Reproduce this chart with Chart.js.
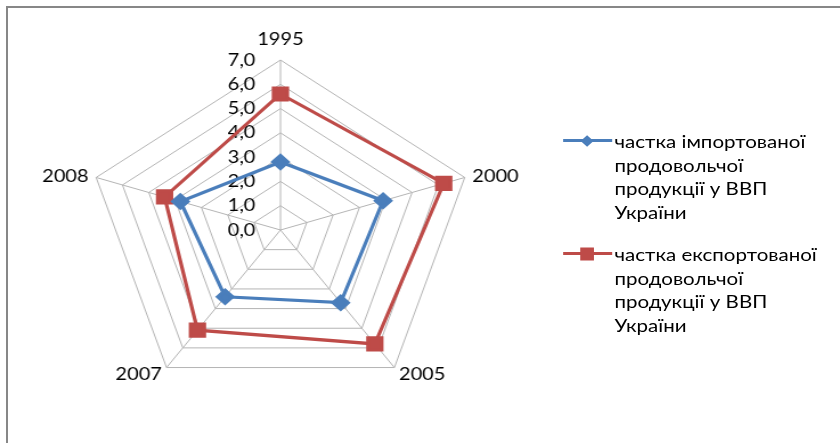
<!DOCTYPE html>
<html lang="uk">
<head>
  <meta charset="UTF-8">
  <title>Частка продовольчої продукції у ВВП України</title>
  <script src="https://cdn.jsdelivr.net/npm/chart.js"></script>
  <style>
    html, body {
      margin: 0;
      padding: 0;
      width: 840px;
      height: 443px;
      overflow: hidden;
      background: #fff;
    }
    .frame {
      position: absolute;
      left: 6px;
      top: 6px;
      width: 900px;
      height: 500px;
      border: 2px solid #878787;
    }
    /* the source picture is stretched sideways, so the whole chart is too */
    .stretch {
      position: absolute;
      left: 0;
      top: 0;
      width: 737px;
      height: 443px;
      transform: scaleX(1.14);
      transform-origin: 0 0;
    }
    #radar {
      position: absolute;
      left: 0;
      top: 0;
    }
    .legend {
      position: absolute;
      left: 494px;
      top: 130px;
      font-family: Lato, 'Noto Sans', sans-serif;
      font-size: 18px;
      line-height: 23.5px;
      color: #000;
    }
    .item {
      position: relative;
      padding-left: 45px;
      margin-bottom: 19px;
    }
    .item .line {
      position: absolute;
      left: 0;
      top: 9px;
      width: 43px;
      height: 3px;
    }
    .item .mark {
      position: absolute;
      left: 21px;
      top: 10.5px;
      transform: translate(-50%, -50%);
    }
  </style>
</head>
<body>
  <div class="frame"></div>
  <div class="stretch">
    <canvas id="radar" width="493" height="443"></canvas>
    <div class="legend" id="legend"></div>
  </div>

  <script>
    const years = ['1995', '2000', '2005', '2007', '2008'];
    const importShare = [2.8, 3.9, 3.7, 3.4, 3.8];
    const exportShare = [5.6, 6.2, 5.8, 5.1, 4.4];
    const seriesNames = [
      ['частка імпортованої', 'продовольчої', 'продукції у ВВП', 'України'],
      ['частка експортованої', 'продовольчої', 'продукції у ВВП', 'України']
    ];
    const tickValues = [0, 1, 2, 3, 4, 5, 6, 7];
    const tickLabels = ['0,0', '1,0', '2,0', '3,0', '4,0', '5,0', '6,0', '7,0'];

    const labelFont = '17.5px Lato';

    // tick labels sit left of the vertical axis, under the lines
    const tickLabelPlugin = {
      id: 'tickLabels',
      beforeDatasetsDraw(chart) {
        const r = chart.scales.r;
        const ctx = chart.ctx;
        ctx.save();
        ctx.font = labelFont;
        ctx.fillStyle = '#000';
        ctx.textAlign = 'right';
        ctx.textBaseline = 'middle';
        tickValues.forEach((v, i) => {
          ctx.fillText(tickLabels[i], r.xCenter - 22, r.yCenter - r.getDistanceFromCenterForValue(v));
        });
        ctx.restore();
      }
    };

    // year labels placed like Excel does: beside the side corners, under the bottom ones
    const yearLabelPlugin = {
      id: 'yearLabels',
      afterDatasetsDraw(chart) {
        const r = chart.scales.r;
        const ctx = chart.ctx;
        ctx.save();
        ctx.font = labelFont;
        ctx.fillStyle = '#000';
        ctx.textBaseline = 'middle';
        chart.data.labels.forEach((lab, i) => {
          const a = r.getIndexAngle(i);
          const p = r.getPointPosition(i, r.drawingArea);
          const s = Math.sin(a);
          const c = Math.cos(a);
          let x = p.x + s * 7;
          let y;
          if (Math.abs(s) < 0.1) {
            ctx.textAlign = 'center';
            y = p.y - 21;
          } else {
            ctx.textAlign = s > 0 ? 'left' : 'right';
            y = c < 0 ? p.y + 7 : p.y - 1;
          }
          ctx.fillText(lab, x, y);
        });
        ctx.restore();
      }
    };

    const chart = new Chart(document.getElementById('radar'), {
      type: 'radar',
      data: {
        labels: years,
        datasets: [{
          label: seriesNames[0].join(' '),
          data: importShare,
          borderColor: '#4a7ebb',
          backgroundColor: '#4a7ebb',
          pointBackgroundColor: '#4a7ebb',
          pointBorderColor: '#4a7ebb',
          pointStyle: 'rectRot',
          pointRadius: 6.5,
          borderWidth: 3.2,
          fill: false
        }, {
          label: seriesNames[1].join(' '),
          data: exportShare,
          borderColor: '#be4b48',
          backgroundColor: '#be4b48',
          pointBackgroundColor: '#be4b48',
          pointBorderColor: '#be4b48',
          pointStyle: 'rect',
          pointRadius: 8.5,
          borderWidth: 3.2,
          fill: false
        }]
      },
      options: {
        responsive: false,
        animation: false,
        layout: { padding: { top: 60, bottom: 42 } },
        plugins: {
          legend: { display: false },
          tooltip: { enabled: false }
        },
        scales: {
          r: {
            min: 0,
            max: 7,
            ticks: { stepSize: 1, display: false },
            grid: { color: '#b4b4b4', lineWidth: 1 },
            angleLines: { color: '#b4b4b4', lineWidth: 1 },
            pointLabels: { display: false }
          }
        }
      },
      plugins: [tickLabelPlugin, yearLabelPlugin]
    });

    // legend built from the datasets
    const legend = document.getElementById('legend');
    chart.data.datasets.forEach((ds, i) => {
      const item = document.createElement('div');
      item.className = 'item';
      const line = document.createElement('span');
      line.className = 'line';
      line.style.background = ds.borderColor;
      const mark = document.createElement('span');
      mark.className = 'mark';
      mark.style.background = ds.borderColor;
      if (ds.pointStyle === 'rectRot') {
        mark.style.width = '8px';
        mark.style.height = '8px';
        mark.style.transform = 'translate(-50%, -50%) rotate(45deg)';
      } else {
        mark.style.width = '12px';
        mark.style.height = '13px';
      }
      item.appendChild(line);
      item.appendChild(mark);
      seriesNames[i].forEach((t, k) => {
        if (k) item.appendChild(document.createElement('br'));
        item.appendChild(document.createTextNode(t));
      });
      legend.appendChild(item);
    });
  </script>
</body>
</html>
